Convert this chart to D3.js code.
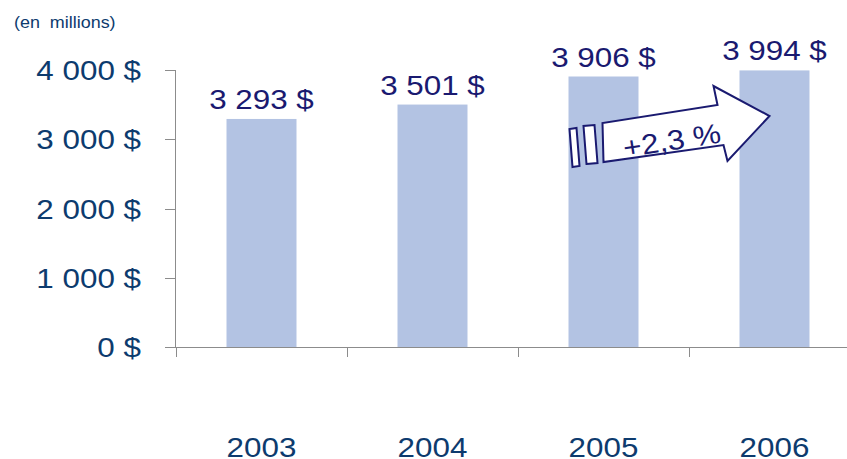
<!DOCTYPE html>
<html>
<head>
<meta charset="utf-8">
<script src="https://cdn.jsdelivr.net/npm/d3@7"></script>
<style>
  body { margin: 0; background: #fff; }
  svg { font-family: "Liberation Sans", Arial, sans-serif; }
</style>
</head>
<body>
<div class="chart"></div>
<script>
const years = ["2003", "2004", "2005", "2006"];
const values = [3293, 3501, 3906, 3994];
const valueLabels = ["3 293 $", "3 501 $", "3 906 $", "3 994 $"];
const yTicks = [0, 1000, 2000, 3000, 4000];
const yTickLabels = ["0 $", "1 000 $", "2 000 $", "3 000 $", "4 000 $"];
const growthLabel = "+2,3 %";

const width = 847, height = 459;
const textColor = "#0d3b6e";
const navy = "#1a1a70";
const barColor = "#b3c3e3";
const axisColor = "#8c8c8c";
const stretch = 1.12;

const svg = d3.select("div.chart").append("svg")
    .attr("width", width).attr("height", height);

// widen text like the original font
function widen(sel) {
    sel.each(function () {
        const w = this.getComputedTextLength();
        d3.select(this).attr("textLength", w * stretch).attr("lengthAdjust", "spacingAndGlyphs");
    });
}

const x = d3.scaleBand().domain(years).range([176, 860]);
const y = d3.scaleLinear().domain([0, 4000]).range([347, 70]);
const barW = 70;

svg.append("text")
    .attr("x", 14).attr("y", 28)
    .attr("font-size", 16).attr("fill", textColor)
    .style("white-space", "pre")
    .text("(en  millions)")
    .call(widen);

// axes
svg.append("line")
    .attr("x1", 175.5).attr("x2", 175.5)
    .attr("y1", y(4000)).attr("y2", y(0))
    .attr("stroke", axisColor);
svg.append("line")
    .attr("x1", 165).attr("x2", width)
    .attr("y1", y(0) + 0.5).attr("y2", y(0) + 0.5)
    .attr("stroke", axisColor);

svg.selectAll(".ytick").data(yTicks).enter().append("line")
    .attr("x1", 165).attr("x2", 175.5)
    .attr("y1", d => Math.round(y(d)) + 0.5).attr("y2", d => Math.round(y(d)) + 0.5)
    .attr("stroke", axisColor);

svg.selectAll(".ylab").data(yTicks).enter().append("text")
    .attr("x", 141).attr("y", d => y(d) + 10)
    .attr("text-anchor", "end").attr("font-size", 28).attr("fill", textColor)
    .text((d, i) => yTickLabels[i])
    .call(widen);

svg.selectAll(".xtick").data(years).enter().append("line")
    .attr("x1", d => Math.round(x(d)) + 0.5).attr("x2", d => Math.round(x(d)) + 0.5)
    .attr("y1", y(0)).attr("y2", y(0) + 10)
    .attr("stroke", axisColor);

// bars
svg.selectAll(".bar").data(values).enter().append("rect")
    .attr("x", (d, i) => x(years[i]) + x.bandwidth() / 2 - barW / 2)
    .attr("width", barW)
    .attr("y", d => y(d))
    .attr("height", d => y(0) - y(d))
    .attr("fill", barColor);

svg.selectAll(".vlab").data(values).enter().append("text")
    .attr("x", (d, i) => x(years[i]) + x.bandwidth() / 2)
    .attr("y", d => y(d) - 10)
    .attr("text-anchor", "middle").attr("font-size", 28).attr("fill", navy)
    .text((d, i) => valueLabels[i])
    .call(widen);

svg.selectAll(".xlab").data(years).enter().append("text")
    .attr("x", d => x(d) + x.bandwidth() / 2)
    .attr("y", 457)
    .attr("text-anchor", "middle").attr("font-size", 28).attr("fill", textColor)
    .text(d => d)
    .call(widen);

// growth arrow
const ax = x("2005") + x.bandwidth() / 2, ay = 162;
const g = svg.append("g").attr("transform", `translate(${ax},${ay})`);
const arrowPts = [[0, 0], [-1, -39], [114, -57], [110, -76], [166, -46], [124, -1], [120, -17]];
g.append("path")
    .attr("d", d3.line()(arrowPts) + "Z")
    .attr("fill", "#fff").attr("stroke", navy).attr("stroke-width", 2)
    .attr("stroke-linejoin", "miter");
const stripes = [
    [[-31, 5], [-24, 4], [-27, -34], [-34, -33]],
    [[-17, 2], [-6, 1], [-9, -37], [-20, -36]]
];
g.selectAll(".stripe").data(stripes).enter().append("path")
    .attr("d", d => d3.line()(d) + "Z")
    .attr("fill", "#fff").attr("stroke", navy).attr("stroke-width", 2);
g.append("text")
    .attr("transform", "translate(70,-12) rotate(-9)")
    .attr("text-anchor", "middle").attr("font-size", 28).attr("fill", navy)
    .text(growthLabel)
    .call(widen);
</script>
</body>
</html>
